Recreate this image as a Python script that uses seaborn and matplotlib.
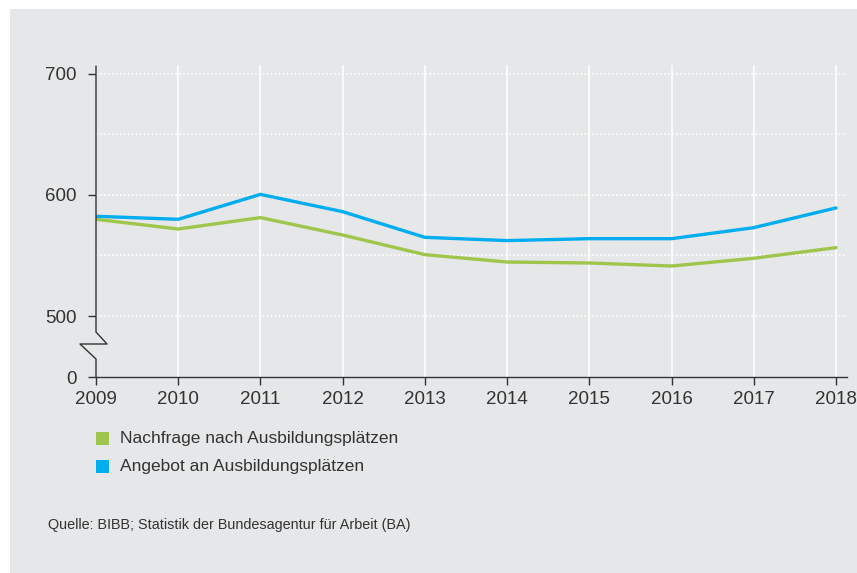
import pandas as pd
import seaborn as sns
import matplotlib.pyplot as plt
from matplotlib.patches import Rectangle
from matplotlib.lines import Line2D

# Daten (in Tausend)
jahre = [2009, 2010, 2011, 2012, 2013, 2014, 2015, 2016, 2017, 2018]
nachfrage = [579.9, 571.9, 581.3, 566.9, 550.7, 544.6, 543.8, 541.3, 547.7, 556.5]
angebot = [582.4, 579.9, 600.5, 586.2, 565.0, 562.3, 563.9, 563.9, 573.0, 589.3]
reihen = ['Nachfrage nach Ausbildungsplätzen', 'Angebot an Ausbildungsplätzen']
y_labels = ['0', '500', '600', '700']
quelle = 'Quelle: BIBB; Statistik der Bundesagentur für Arbeit (BA)'

farben = {reihen[0]: '#9fc54d', reihen[1]: '#00aeef'}
grau = '#e6e7e8'
textfarbe = '#333333'

# die 0 liegt unterhalb vom Achsenbruch
null_pos = 449.6

df = pd.DataFrame({
    'Jahr': jahre + jahre,
    'Wert': nachfrage + angebot,
    'Reihe': [reihen[0]] * len(jahre) + [reihen[1]] * len(jahre),
})

sns.set_style('white')
plt.rcParams['font.family'] = ['Liberation Sans', 'DejaVu Sans']

W, H = 857, 573
fig = plt.figure(figsize=(W / 100, H / 100), dpi=100, facecolor='white')
fig.patches.append(Rectangle((10 / W, 0), 1, 1 - 9 / H, transform=fig.transFigure,
                             facecolor=grau, edgecolor='none', zorder=-5))

ax = fig.add_axes([96 / W, 1 - 377 / H, (847 - 96) / W, (377 - 65) / H])
ax.set_facecolor('none')

# Gitter
for j in jahre[1:]:
    ax.axvline(j, color='white', lw=1.1, zorder=1)
for v in [500, 550, 600, 650, 700]:
    ax.axhline(v, color='white', lw=1.3, ls=(0, (0.9, 1.3)), zorder=1)

sns.lineplot(data=df, x='Jahr', y='Wert', hue='Reihe', palette=farben,
             linewidth=2.4, legend=False, ax=ax, zorder=3)

ax.set_xlim(2009, 2018.134)
ax.set_ylim(null_pos, 707.4)
ax.set_xticks(jahre)
ax.set_xticklabels([str(j) for j in jahre])
ax.set_yticks([null_pos, 500, 600, 700])
ax.set_yticklabels(y_labels)
ax.set_xlabel('')
ax.set_ylabel('')
ax.tick_params(axis='both', direction='out', length=5.5, width=1, color=textfarbe,
               labelcolor=textfarbe, labelsize=13.5, bottom=True, left=True)
ax.tick_params(axis='x', pad=4.5)
ax.tick_params(axis='y', pad=8.5)

for s in ['top', 'right', 'left']:
    ax.spines[s].set_visible(False)
ax.spines['bottom'].set_color(textfarbe)
ax.spines['bottom'].set_linewidth(1)

# linke Achse mit Bruch
px = [96, 96, 107, 80, 96, 96]
py = [66, 332, 344, 344, 359, 377]
fig.add_artist(Line2D([x / W for x in px], [1 - y / H for y in py],
                      transform=fig.transFigure, color=textfarbe, lw=1))

# Legende
for i, (r, yy) in enumerate(zip(reihen, [438, 466])):
    fig.patches.append(Rectangle((96 / W, 1 - (yy + 6.5) / H), 13 / W, 13 / H,
                                 transform=fig.transFigure, facecolor=farben[r],
                                 edgecolor='none'))
    fig.text(120 / W, 1 - yy / H, r, fontsize=12.5, color=textfarbe, va='center')

fig.text(48 / W, 1 - 525 / H, quelle, fontsize=10.4, color=textfarbe, va='center')

fig.savefig('out.png', dpi=100)
